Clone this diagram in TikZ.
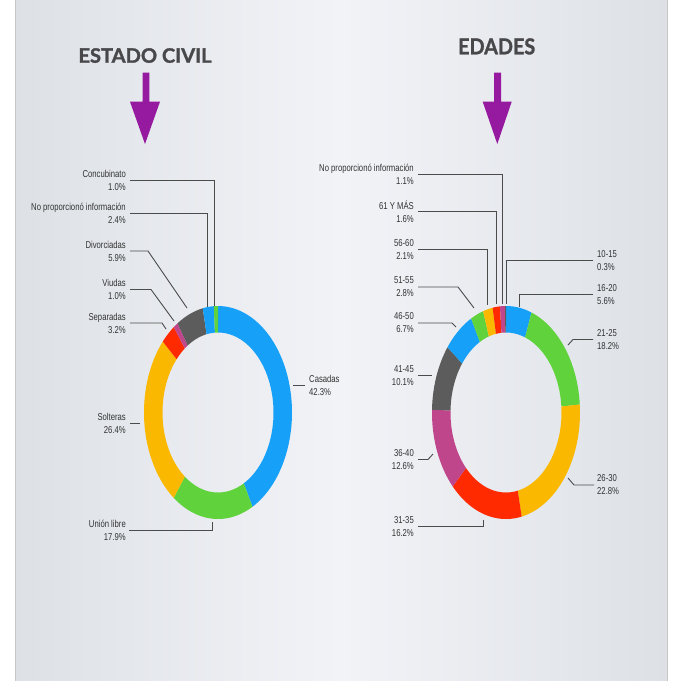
\documentclass[tikz,border=0pt]{standalone}
\usepackage{fontspec}
\setmainfont{Liberation Sans}
\newfontfamily\labfont[FakeStretch=0.77]{Liberation Sans}
\newfontfamily\titfont[BoldFeatures={FakeBold=1.5}]{Lato}
\definecolor{cblue}{RGB}{22,160,248}
\definecolor{cgreen}{RGB}{96,210,60}
\definecolor{cyellow}{RGB}{250,184,0}
\definecolor{cred}{RGB}{255,42,0}
\definecolor{cmag}{RGB}{192,70,140}
\definecolor{cgray}{RGB}{92,92,92}
\definecolor{labc}{RGB}{50,50,50}
\definecolor{leadc}{RGB}{75,75,75}
\definecolor{titc}{RGB}{72,72,75}
\definecolor{arrc}{RGB}{150,26,160}
\definecolor{bgedge}{RGB}{221,225,230}
\definecolor{bgmid}{RGB}{242,243,247}
\newcommand\ringseg[5]{%
  \fill[#5] plot[domain=#3:#4,samples=60] ({#1+74*sin(\x)},{#2-106.5*cos(\x)})
    -- plot[domain=#3:#4,samples=60] ({#1+55.5*sin(#3+#4-\x)},{#2-80*cos(#3+#4-\x)}) -- cycle;}
\tikzset{
  lab/.style={font=\labfont\fontsize{10}{13}\selectfont, text=labc, inner sep=0pt, align=right, anchor=east},
  labr/.style={font=\labfont\fontsize{10}{13}\selectfont, text=labc, inner sep=0pt, align=left, anchor=west},
  leader/.style={draw=leadc, line width=0.9pt},
  ttl/.style={font=\titfont\bfseries, text=titc, inner sep=0pt, anchor=base}
}
\begin{document}
\begin{tikzpicture}[x=1pt,y=-1pt]
\useasboundingbox (0,0) rectangle (676,681);
\fill[white] (0,0) rectangle (676,681);
% slide background
\shade[left color=bgedge, right color=bgedge, middle color=bgmid] (15,0) rectangle (667,681);
\draw[gray!45, line width=0.6pt] (15,0) -- (15,681) (667,0) -- (667,681);

% titles
\node[ttl] (tEst) at (145,62.7) {\resizebox{133pt}{14.5pt}{ESTADO CIVIL}};
\node[ttl] (tEda) at (496.7,54.3) {\resizebox{77pt}{16pt}{EDADES}};

% arrows
\fill[arrc] (142.7,72.7) -- (149.3,72.7) -- (149.3,101.7) -- (160,101.7) -- (145,144) -- (130,101.7) -- (142.7,101.7) -- cycle;
\fill[arrc] (494,72.7) -- (501,72.7) -- (501,101.7) -- (511.7,101.7) -- (497.3,144) -- (482.7,101.7) -- (494,101.7) -- cycle;

% left ring (Estado civil)
\ringseg{218}{412.5}{0}{152.28}{cblue}
\ringseg{218}{412.5}{152.28}{216.72}{cgreen}
\ringseg{218}{412.5}{216.72}{311.76}{cyellow}
\ringseg{218}{412.5}{311.76}{323.28}{cred}
\ringseg{218}{412.5}{323.28}{326.88}{cmag}
\ringseg{218}{412.5}{326.88}{348.12}{cgray}
\ringseg{218}{412.5}{348.12}{356.76}{cblue}
\ringseg{218}{412.5}{356.76}{360}{cgreen}

% right ring (Edades)
\ringseg{506}{412.5}{0}{20.16}{cblue}
\ringseg{506}{412.5}{20.16}{85.68}{cgreen}
\ringseg{506}{412.5}{85.68}{167.76}{cyellow}
\ringseg{506}{412.5}{167.76}{226.08}{cred}
\ringseg{506}{412.5}{226.08}{271.44}{cmag}
\ringseg{506}{412.5}{271.44}{307.8}{cgray}
\ringseg{506}{412.5}{307.8}{331.92}{cblue}
\ringseg{506}{412.5}{331.92}{342}{cgreen}
\ringseg{506}{412.5}{342}{349.56}{cyellow}
\ringseg{506}{412.5}{349.56}{355.32}{cred}
\ringseg{506}{412.5}{355.32}{359.28}{cmag}
\ringseg{506}{412.5}{359.28}{360}{cgray}

% ---- left labels ----
\node[lab] (lCon) at (126,180) {Concubinato\\1.0\%};
\node[lab] (lNoP) at (126,213.5) {No proporcionó información\\2.4\%};
\node[lab] (lDiv) at (126,251) {Divorciadas\\5.9\%};
\node[lab] (lViu) at (126,289.5) {Viudas\\1.0\%};
\node[lab] (lSep) at (126,323) {Separadas\\3.2\%};
\node[lab] (lSol) at (126,423.5) {Solteras\\26.4\%};
\node[lab] (lUni) at (126,530.5) {Unión libre\\17.9\%};
\node[labr] (lCas) at (309,385) {Casadas\\42.3\%};

\coordinate (pCon) at (214,306);
\coordinate (pNoP) at (207.7,307);
\coordinate (kDiv) at (148,251);  \coordinate (pDiv) at (187,308);
\coordinate (kViu) at (151,289.5); \coordinate (pViu) at (174,321);
\coordinate (kSep) at (162,323);  \coordinate (pSep) at (166,329);
\coordinate (pSol) at (140,423.5);
\coordinate (pUni) at (212,522);
\coordinate (pCas) at (293,385);

\draw[leader] ([xshift=4pt]lCon.east) -| (pCon);
\draw[leader] ([xshift=4pt]lNoP.east) -| (pNoP);
\draw[leader] ([xshift=4pt]lDiv.east) -- (kDiv) -- (pDiv);
\draw[leader] ([xshift=4pt]lViu.east) -- (kViu) -- (pViu);
\draw[leader] ([xshift=4pt]lSep.east) -- (kSep) -- (pSep);
\draw[leader] ([xshift=4pt]lSol.east) -- (pSol);
\draw[leader] ([xshift=3pt]lUni.east) -| (pUni);
\draw[leader] ([xshift=-4pt]lCas.west) -- (pCas);

% ---- right labels ----
\node[lab] (rNoP) at (414,174) {No proporcionó información\\1.1\%};
\node[lab] (r61) at (414,211.5) {61 Y MÁS\\1.6\%};
\node[lab] (r56) at (414,249.5) {56-60\\2.1\%};
\node[lab] (r51) at (414,287) {51-55\\2.8\%};
\node[lab] (r46) at (414,323) {46-50\\6.7\%};
\node[lab] (r41) at (414,375.5) {41-45\\10.1\%};
\node[lab] (r36) at (414,459.5) {36-40\\12.6\%};
\node[lab] (r31) at (414,526.5) {31-35\\16.2\%};
\node[labr] (r10) at (597,260.5) {10-15\\0.3\%};
\node[labr] (r16) at (597,294.5) {16-20\\5.6\%};
\node[labr] (r21) at (597,339.5) {21-25\\18.2\%};
\node[labr] (r26) at (597,485) {26-30\\22.8\%};

\coordinate (qNoP) at (502,304);
\coordinate (q61) at (496,304);
\coordinate (q56) at (487,305);
\coordinate (k51) at (458,287); \coordinate (q51) at (474,308);
\coordinate (k46) at (452,323); \coordinate (q46) at (456,327);
\coordinate (q41) at (432,375.5);
\coordinate (k36) at (428,459.5); \coordinate (q36) at (433,454);
\coordinate (q31) at (483,520);
\coordinate (q10) at (506,304);
\coordinate (q16) at (519,307);
\coordinate (k21) at (573,339.5); \coordinate (q21) at (568,345);
\coordinate (k26) at (574,485); \coordinate (q26) at (568,478);

\draw[leader] ([xshift=4pt]rNoP.east) -| (qNoP);
\draw[leader] ([xshift=4pt]r61.east) -| (q61);
\draw[leader] ([xshift=4pt]r56.east) -| (q56);
\draw[leader] ([xshift=4pt]r51.east) -- (k51) -- (q51);
\draw[leader] ([xshift=4pt]r46.east) -- (k46) -- (q46);
\draw[leader] ([xshift=4pt]r41.east) -- (q41);
\draw[leader] ([xshift=4pt]r36.east) -- (k36) -- (q36);
\draw[leader] ([xshift=4pt]r31.east) -| (q31);
\draw[leader] ([xshift=-4pt]r10.west) -| (q10);
\draw[leader] ([xshift=-4pt]r16.west) -| (q16);
\draw[leader] ([xshift=-4pt]r21.west) -- (k21) -- (q21);
\draw[leader] ([xshift=-3pt]r26.west) -- (k26) -- (q26);
\end{tikzpicture}
\end{document}
